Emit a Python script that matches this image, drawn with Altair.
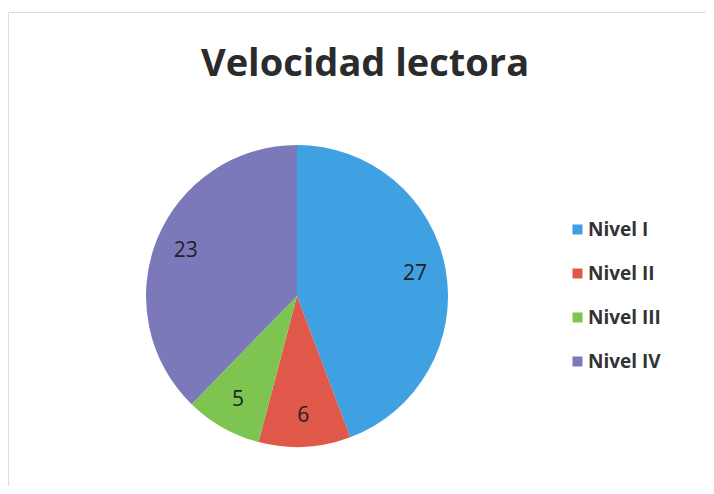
import altair as alt
import pandas as pd

categories = ["Nivel I", "Nivel II", "Nivel III", "Nivel IV"]
values = [27, 6, 5, 23]
colors = ["#3fa0e2", "#e0584a", "#7dc450", "#7b79ba"]
title_text = "Velocidad lectora"

df = pd.DataFrame({"cat": categories, "val": values, "order": list(range(len(categories)))})

CX, CY = 289, 284  # pie centre in view coords
R = 151

base = alt.Chart(df).encode(
    theta=alt.Theta("val:Q", stack=True),
    order=alt.Order("order:Q"),
)

pie = base.mark_arc(outerRadius=R, stroke=None).encode(
    x=alt.value(CX),
    y=alt.value(CY),
    color=alt.Color(
        "cat:N",
        scale=alt.Scale(domain=categories, range=colors),
        legend=alt.Legend(
            title=None,
            orient="none",
            legendX=560,
            legendY=208,
            symbolType="square",
            symbolSize=100,
            symbolStrokeWidth=0,
            labelFont="Open Sans",
            labelFontSize=19,
            labelFontWeight="bold",
            labelColor="#333333",
            rowPadding=24,
            labelOffset=1,
        ),
    ),
)

labels = base.mark_text(radius=120, font="Open Sans", fontSize=21, color="#222222").encode(
    x=alt.value(CX),
    y=alt.value(CY),
    text=alt.Text("val:Q"),
)

chart = (
    alt.layer(pie, labels)
    .properties(
        width=698,
        height=474,
        padding={"left": 0, "top": 4, "right": 0, "bottom": 0},
        autosize=alt.AutoSizeParams(type="none"),
        title=alt.Title(
            title_text,
            font="Open Sans",
            fontSize=38,
            fontWeight="bold",
            color="#2b2b2b",
            anchor="middle",
            baseline="alphabetic",
            offset=0,
            dy=102,
            dx=8,
        ),
    )
    .configure_view(stroke="#b0b0b0", strokeWidth=1)
    .configure(background="white")
)

chart.save("out.html", embed_options={"renderer": "svg", "actions": False})
